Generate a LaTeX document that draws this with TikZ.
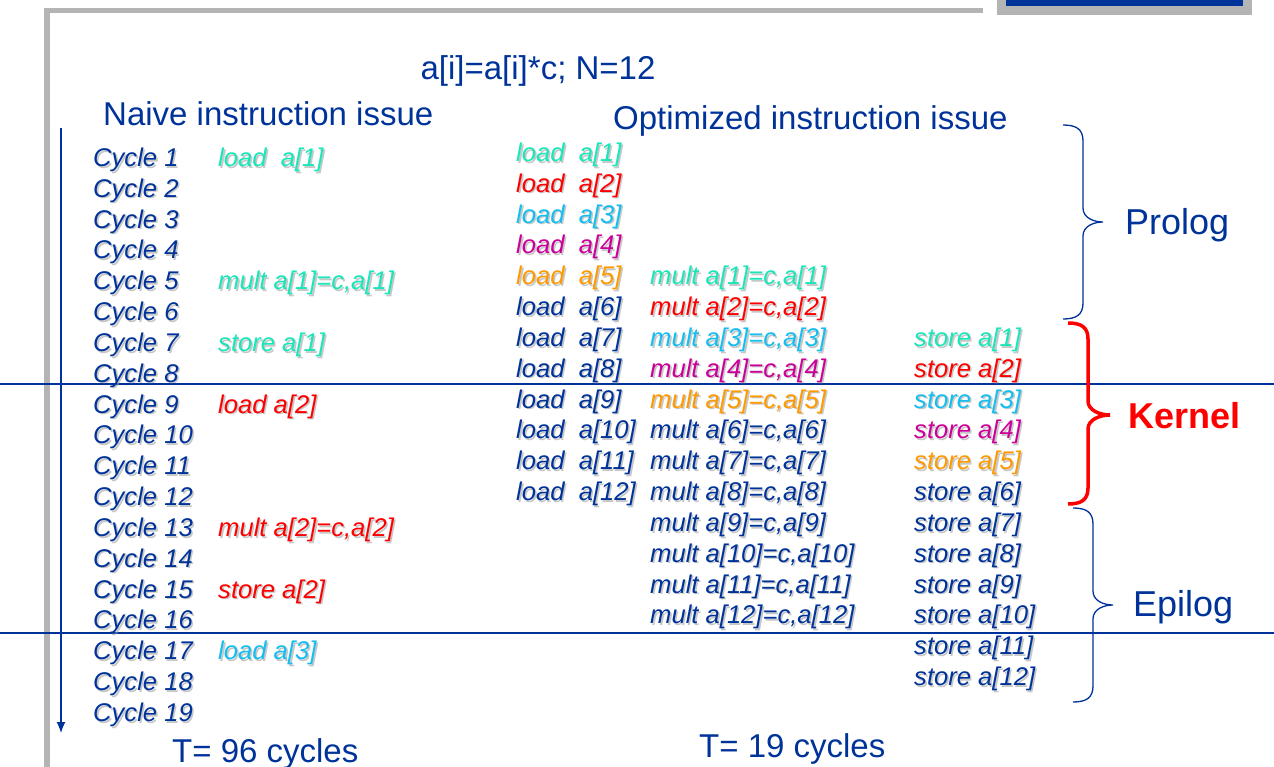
\documentclass[tikz,border=0pt]{standalone}
\usepackage{fontspec}
\setmainfont{Liberation Sans}
\usetikzlibrary{arrows.meta}
\definecolor{navy}{RGB}{0,51,153}
\definecolor{mint}{RGB}{25,230,185}
\definecolor{sky}{RGB}{20,190,240}
\definecolor{plum}{RGB}{204,0,153}
\definecolor{amber}{RGB}{255,153,0}
\definecolor{hot}{RGB}{255,0,0}
\definecolor{framegray}{RGB}{180,180,180}

% one italic entry of the schedule, with its soft drop shadow
% #1 name, #2 x, #3 y of first row, #4 row, #5 colour, #6 text
\newcommand\op[6]{%
  \pgfmathsetmacro\opy{#3+(#4-1)*30.83+8.5}
  \node[shadowtxt] (#1-s) at (#2+1.6,\opy+1.6) {#6};
  \node[optxt,text=#5] (#1) at (#2,\opy) {#6};
}
% curly brace: #1 style, #2 x of ends, #3 x of stem, #4 x of tip, #5 top, #6 tip y, #7 bottom
\newcommand\curly[7]{%
  \draw[#1] (#2,#5) .. controls (#3-7,#5) and (#3,#5+4) .. (#3,#5+16)
    -- (#3,#6-14) .. controls (#3,#6-4) and (#4-9,#6) .. (#4,#6)
    .. controls (#4-9,#6) and (#3,#6+4) .. (#3,#6+14)
    -- (#3,#7-16) .. controls (#3,#7-4) and (#3-7,#7) .. (#2,#7);
}

\begin{document}
\begin{tikzpicture}[x=1pt,y=-1pt,
  optxt/.style={anchor=base west,inner sep=0pt,font=\fontsize{25.6}{25.6}\selectfont\itshape},
  shadowtxt/.style={anchor=base west,inner sep=0pt,font=\fontsize{25.6}{25.6}\selectfont\itshape,text=black!40,text opacity=0.55},
  head/.style={inner sep=0pt,text=navy,font=\fontsize{33}{33}\selectfont},
  phase/.style={anchor=base west,inner sep=0pt,text=navy,font=\fontsize{36}{36}\selectfont},
  sep/.style={navy,line width=1.3pt}]
\useasboundingbox (0,0) rectangle (1274,767);

% slide frame and corner box
\fill[framegray] (44,8) rectangle (983,13);
\fill[framegray] (44,8) rectangle (50,767);
\fill[framegray] (997,0) rectangle (1252,15);
\fill[navy] (1006,0) rectangle (1243,6);

% headings
\node[head,anchor=base] (title) at (538,80) {a[i]=a[i]*c; N=12};
\node[head,anchor=base west] (naive) at (103,126) {Naive instruction issue};
\node[head,anchor=base west] (opt) at (613,130) {Optimized instruction issue};
\node[head,anchor=base west] (tnaive) at (172,762) {T= 96 cycles};
\node[head,anchor=base west] (topt) at (699,757) {T= 19 cycles};

% iteration boundaries
\draw[sep] (0,384) -- (1274,384);
\draw[sep] (0,633) -- (1274,633);

% time axis
\coordinate (tStart) at (61,128);
\coordinate (tEnd) at (61,733);
\draw[navy,line width=1.2pt,-{Latex[length=11pt,width=9pt]}] (tStart) -- (tEnd);

% cycle numbers
\foreach \i in {1,...,19}{\op{cyc\i}{93}{158}{\i}{navy}{Cycle \i}}

% naive schedule
\op{n1}{218}{158}{1}{mint}{load~~a[1]}
\op{n5}{218}{158}{5}{mint}{mult a[1]=c,a[1]}
\op{n7}{218}{158}{7}{mint}{store a[1]}
\op{n9}{218}{158}{9}{hot}{load a[2]}
\op{n13}{218}{158}{13}{hot}{mult a[2]=c,a[2]}
\op{n15}{218}{158}{15}{hot}{store a[2]}
\op{n17}{218}{158}{17}{sky}{load a[3]}

% software-pipelined schedule
\foreach \k/\c in {1/mint,2/hot,3/sky,4/plum,5/amber,6/navy,7/navy,8/navy,9/navy,10/navy,11/navy,12/navy}{
  \pgfmathtruncatemacro\rmul{\k+4}
  \pgfmathtruncatemacro\rst{\k+6}
  \op{ld\k}{516}{153}{\k}{\c}{load~~a[\k]}
  \op{mu\k}{650}{153}{\rmul}{\c}{mult a[\k]=c,a[\k]}
  \op{st\k}{914}{153}{\rst}{\c}{store a[\k]}
}

% phases
\curly{navy,line width=1.3pt}{1063}{1083}{1103}{125}{222}{319}
\curly{hot,line width=3.5pt}{1068}{1088}{1110}{323}{415}{504}
\curly{navy,line width=1.3pt}{1073}{1093}{1113}{508}{605}{702}
\node[phase] (prolog) at (1125,235) {Prolog};
\node[phase,text=hot,font=\fontsize{36}{36}\selectfont\bfseries] (kernel) at (1128,428) {Kernel};
\node[phase] (epilog) at (1133,616) {Epilog};
\end{tikzpicture}
\end{document}
